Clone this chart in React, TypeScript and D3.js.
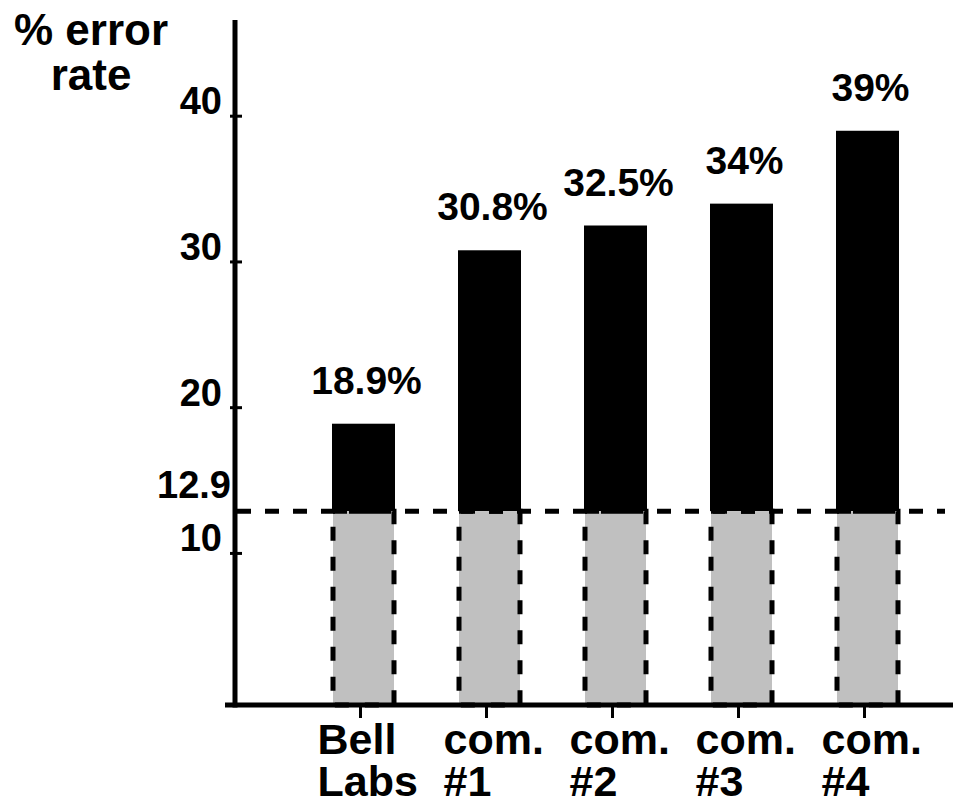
import * as d3 from "d3";

// chart data
const categories = ["Bell Labs", "com. #1", "com. #2", "com. #3", "com. #4"];
const categoryLines = [
  ["Bell", "Labs"],
  ["com.", "#1"],
  ["com.", "#2"],
  ["com.", "#3"],
  ["com.", "#4"],
];
const errorRates = [18.9, 30.8, 32.5, 34, 39];
const rateLabels = ["18.9%", "30.8%", "32.5%", "34%", "39%"];
const yTicks = [10, 20, 30, 40];
const baselineRate = 12.9;
const baselineLabel = "12.9";

const W = 953;
const H = 806;
const FONT = "'Liberation Sans', Arial, Helvetica, sans-serif";

export default function App() {
  const axisX = 235;
  const axisY = 705;

  const y = d3.scaleLinear().domain([-0.4, 46.6]).range([axisY, 20]);
  const x = d3
    .scaleBand<string>()
    .domain(categories)
    .range([300.5, 930.5])
    .paddingInner(0.5)
    .paddingOuter(0.25);

  const bw = x.bandwidth();
  const yBase = y(baselineRate);

  return (
    <svg
      width={W}
      height={H}
      style={{ position: "absolute", left: 0, top: 0, background: "#fff" }}
      fontFamily={FONT}
      fontWeight="bold"
    >
      {/* title */}
      <text x={91} y={45} fontSize={44} textAnchor="middle">
        <tspan x={91}>% error</tspan>
        <tspan x={91} dy={45}>rate</tspan>
      </text>

      {/* bars: black part above the baseline, grey dashed part below */}
      {categories.map((c, i) => (
        <g key={c}>
          <rect
            x={x(c)!}
            y={y(errorRates[i])}
            width={bw}
            height={yBase - y(errorRates[i])}
            fill="#000"
          />
          <rect
            x={x(c)! + 1}
            y={yBase}
            width={bw - 2}
            height={axisY - yBase}
            fill="#c0c0c0"
            stroke="#000"
            strokeWidth={5}
            strokeDasharray="14 16"
          />
          <text
            x={x(c)! + bw / 2 + 3}
            y={y(errorRates[i]) - 30}
            fontSize={39}
            textAnchor="middle"
          >
            {rateLabels[i]}
          </text>
        </g>
      ))}

      {/* baseline dashed line */}
      <line
        x1={axisX + 2}
        x2={945}
        y1={yBase}
        y2={yBase}
        stroke="#000"
        strokeWidth={5}
        strokeDasharray="14 14"
      />
      <text x={231} y={yBase - 13} fontSize={38} textAnchor="end">
        {baselineLabel}
      </text>

      {/* y axis */}
      <line x1={axisX} x2={axisX} y1={20} y2={axisY + 2.5} stroke="#000" strokeWidth={5} />
      {yTicks.map((t) => (
        <g key={t}>
          <line x1={axisX - 5} x2={axisX + 7} y1={y(t)} y2={y(t)} stroke="#000" strokeWidth={3} />
          <text x={222} y={y(t) - 2} fontSize={38} textAnchor="end">
            {t}
          </text>
        </g>
      ))}

      {/* x axis */}
      <line x1={225} x2={W} y1={axisY} y2={axisY} stroke="#000" strokeWidth={5} />
      {categories.map((c, i) => {
        const cx = x(c)! + bw / 2;
        return (
          <g key={c}>
            <line x1={cx - 3} x2={cx - 3} y1={axisY} y2={axisY + 13} stroke="#000" strokeWidth={3} />
            <text x={cx - 46} y={754} fontSize={43}>
              {categoryLines[i].map((ln, j) => (
                <tspan key={j} x={cx - 46} dy={j === 0 ? 0 : 42}>
                  {ln}
                </tspan>
              ))}
            </text>
          </g>
        );
      })}
    </svg>
  );
}
